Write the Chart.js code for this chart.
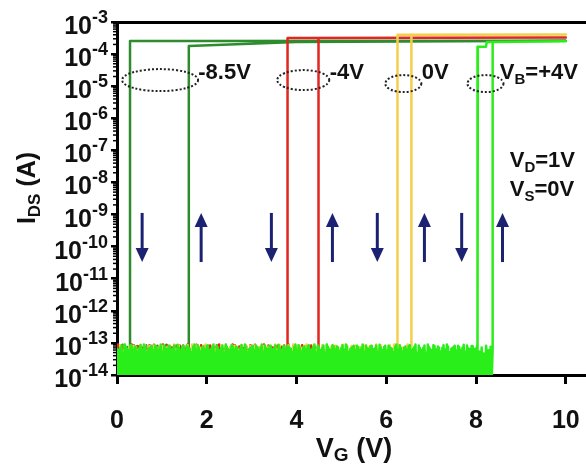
<!DOCTYPE html>
<html><head><meta charset="utf-8">
<script src="https://cdn.jsdelivr.net/npm/chart.js@4.4.0/dist/chart.umd.min.js"></script>
<style>html,body{margin:0;padding:0;background:#fff}</style>
</head><body>
<canvas id="c" width="586" height="464"></canvas>
<script>
// ---------- data ----------
const xTicks = [0, 2, 4, 6, 8, 10];
const yDecades = [-14, -13, -12, -11, -10, -9, -8, -7, -6, -5, -4, -3];
const deviceLabels = ['-8.5V', '-4V', '0V', '+4V'];

// on-state branches [V_G, I_DS]
const dg85Fwd = [[1.60, 1.8e-4], [2.50, 2.0e-4], [4.00, 2.4e-4], [10.0, 2.6e-4]];
const dg85Rev = [[10.0, 2.6e-4], [1.60, 2.55e-4], [0.29, 2.55e-4]];
const red4Fwd = [[4.49, 3.2e-4], [10.0, 3.3e-4]];
const red4Rev = [[10.0, 3.3e-4], [3.80, 3.2e-4]];
const yel0Fwd = [[6.56, 4.0e-4], [10.0, 4.1e-4]];
const yel0Rev = [[10.0, 4.1e-4], [6.25, 4.0e-4]];
const grn4Fwd = [[8.37, 2.4e-4], [10.0, 2.5e-4]];
const grn4Rev = [[10.0, 2.5e-4], [8.24, 2.4e-4], [8.22, 1.7e-4], [8.04, 1.7e-4]];

// off-state noise readings, log10(I_DS)
const offNoise = [
-13.12,-14.25,-13.30,-14.05,-13.08,-14.30,-13.22,-13.98,-13.15,-14.18,
-13.35,-14.10,-13.05,-14.28,-13.18,-14.02,-13.26,-14.22,-13.10,-13.95,
-13.20,-14.30,-13.14,-14.08,-13.32,-14.15,-13.07,-14.25,-13.24,-14.00,
-13.11,-14.20,-13.28,-14.12,-13.16,-14.30,-13.09,-14.04,-13.34,-14.18,
-13.13,-14.26,-13.21,-13.97,-13.06,-14.22,-13.30,-14.10,-13.17,-14.28,
-13.25,-14.06,-13.10,-14.16,-13.19,-14.30,-13.08,-14.02,-13.27,-14.24,
-13.14,-14.12,-13.33,-14.20,-13.09,-13.99,-13.23,-14.27,-13.12,-14.08,
-13.18,-14.22,-13.29,-14.14,-13.05,-14.30,-13.20,-14.03,-13.15,-14.19,
-13.26,-14.26,-13.11,-14.09,-13.31,-14.17,-13.07,-14.29,-13.22,-14.01
];
const sweepStep = 0.025;

// annotation anchors in data units [V_G, log10 I]
const arrowDownV = [0.56, 3.44, 5.80, 7.68];
const arrowUpV = [1.875, 4.80, 6.85, 8.59];
const arrowSpan = [-8.95, -10.48];
const ellipseV = [0.96, 4.15, 6.38, 8.21];
const ellipseE = [-4.81, -4.81, -4.92, -4.92];
const labelV = [1.81, 4.74, 6.79, 8.53];
const labelE = -4.78;

// ---------- styles ----------
const FONT = '"Liberation Sans", Arial, Helvetica, sans-serif';
const colors = ['#2e8b2e', '#e3261f', '#f4cf4c', '#2aee1a'];
const noiseOffsets = [[0, 37], [11, 53], [23, 71], [5, 46]];
const arrowColor = '#1b2272';

function offForward(vEnd, off) {
  const pts = [];
  for (let i = 0; i * sweepStep < vEnd - 1e-9; i++) {
    pts.push({x: +(i * sweepStep).toFixed(3), y: Math.pow(10, offNoise[(i + off) % offNoise.length])});
  }
  pts.push({x: vEnd, y: Math.pow(10, offNoise[(pts.length + off) % offNoise.length])});
  return pts;
}
function offReverse(vStart, off) {
  const pts = [{x: vStart, y: Math.pow(10, offNoise[off % offNoise.length])}];
  let k = 1;
  for (let i = Math.floor(vStart / sweepStep - 1e-9); i >= 0; i--, k++) {
    pts.push({x: +(i * sweepStep).toFixed(3), y: Math.pow(10, offNoise[(k + off) % offNoise.length])});
  }
  return pts;
}
function loop(fwd, rev, offs) {
  const toXY = a => a.map(p => ({x: p[0], y: p[1]}));
  return [
    ...offForward(fwd[0][0], offs[0]),
    ...toXY(fwd),
    ...toXY(rev),
    ...offReverse(rev[rev.length - 1][0], offs[1])
  ];
}
const branches = [[dg85Fwd, dg85Rev], [red4Fwd, red4Rev], [yel0Fwd, yel0Rev], [grn4Fwd, grn4Rev]];
const drawOrder = [3, 2, 1, 0];
const datasets = branches.map((b, i) => ({
  label: deviceLabels[i],
  data: loop(b[0], b[1], noiseOffsets[i]),
  showLine: true,
  borderColor: colors[i],
  backgroundColor: colors[i],
  borderWidth: 2.5,
  pointRadius: 0,
  tension: 0,
  borderJoinStyle: 'round',
  order: drawOrder[i]
}));

function rich(ctx, parts, x, y, align) {
  let w = 0;
  parts.forEach(p => { ctx.font = 'bold ' + p[1] + 'px ' + FONT; w += ctx.measureText(p[0]).width; });
  let cx = align === 'right' ? x - w : (align === 'center' ? x - w / 2 : x);
  ctx.textAlign = 'left';
  ctx.textBaseline = 'alphabetic';
  parts.forEach(p => {
    ctx.font = 'bold ' + p[1] + 'px ' + FONT;
    ctx.fillText(p[0], cx, y + (p[2] || 0));
    cx += ctx.measureText(p[0]).width;
  });
}

const annot = {
  id: 'annot',
  afterDraw(chart) {
    const {ctx, scales: {x, y}, chartArea: ca} = chart;
    const py = e => y.getPixelForValue(Math.pow(10, e));
    ctx.save();
    ctx.fillStyle = '#111';
    // y tick labels 10^n
    yDecades.forEach(e => {
      const p = py(e);
      ctx.font = 'bold 18px ' + FONT;
      const ew = ctx.measureText(String(e)).width;
      rich(ctx, [['10', 25]], 108 - ew, p + 12, 'right');
      rich(ctx, [[String(e), 18]], 108, p + 1, 'right');
    });
    // minor ticks
    ctx.strokeStyle = '#000';
    ctx.lineWidth = 1.5;
    for (let e = -14; e < -3; e++) {
      for (let m = 2; m <= 9; m++) {
        const p = y.getPixelForValue(m * Math.pow(10, e));
        ctx.beginPath(); ctx.moveTo(ca.left - 4, p); ctx.lineTo(ca.left, p); ctx.stroke();
      }
    }
    // axis titles
    rich(ctx, [['V', 27], ['G', 19, 4], [' (V)', 27]], 354, 457, 'center');
    ctx.save();
    ctx.translate(26, 188);
    ctx.rotate(-Math.PI / 2);
    rich(ctx, [['I', 25], ['DS', 17, 5], [' (A)', 25]], 0, 9, 'center');
    ctx.restore();
    // ellipses
    const radii = [[38, 11], [26, 10], [18, 8.5], [18, 8.5]];
    ctx.strokeStyle = '#222';
    ctx.lineWidth = 2;
    ctx.setLineDash([2, 2]);
    ellipseV.forEach((v, i) => {
      ctx.beginPath();
      ctx.ellipse(x.getPixelForValue(v), py(ellipseE[i]), radii[i][0], radii[i][1], 0, 0, Math.PI * 2);
      ctx.stroke();
    });
    ctx.setLineDash([]);
    // sweep labels
    const lb = py(labelE);
    rich(ctx, [['-8.5V', 22]], x.getPixelForValue(labelV[0]), lb, 'left');
    rich(ctx, [['-4V', 22]], x.getPixelForValue(labelV[1]), lb, 'left');
    rich(ctx, [['0V', 22]], x.getPixelForValue(labelV[2]), lb, 'left');
    rich(ctx, [['V', 22], ['B', 15, 5], ['=+4V', 22]], x.getPixelForValue(labelV[3]), lb, 'left');
    // bias conditions
    rich(ctx, [['V', 22], ['D', 15, 5], ['=1V', 22]], x.getPixelForValue(8.75), py(-7.52), 'left');
    rich(ctx, [['V', 22], ['S', 15, 5], ['=0V', 22]], x.getPixelForValue(8.75), py(-8.42), 'left');
    // arrows
    ctx.strokeStyle = arrowColor; ctx.fillStyle = arrowColor; ctx.lineWidth = 3;
    const yt = py(arrowSpan[0]), yb = py(arrowSpan[1]);
    const arrow = (px, up) => {
      const tip = up ? yt : yb, tail = up ? yb : yt, d = up ? 1 : -1;
      ctx.beginPath(); ctx.moveTo(px, tail); ctx.lineTo(px, tip + d * 10); ctx.stroke();
      ctx.beginPath(); ctx.moveTo(px, tip); ctx.lineTo(px - 6.5, tip + d * 14); ctx.lineTo(px + 6.5, tip + d * 14); ctx.closePath(); ctx.fill();
    };
    arrowDownV.forEach(v => arrow(x.getPixelForValue(v), false));
    arrowUpV.forEach(v => arrow(x.getPixelForValue(v), true));
    ctx.restore();
  }
};

new Chart(document.getElementById('c'), {
  type: 'scatter',
  data: {datasets},
  options: {
    responsive: false,
    animation: false,
    devicePixelRatio: 1,
    layout: {padding: {left: 0, right: 0, top: 22, bottom: 0}},
    plugins: {legend: {display: false}, tooltip: {enabled: false}},
    scales: {
      x: {
        type: 'linear', position: 'bottom', min: 0, max: 10.45,
        afterBuildTicks: s => { s.ticks = xTicks.map(v => ({value: v})); },
        afterFit: s => { s.height = 89; s.paddingRight = 0; s.paddingLeft = 0; },
        grid: {drawOnChartArea: false, drawTicks: true, tickLength: 9, lineWidth: 3, color: '#000'},
        border: {display: true, width: 3, color: '#000'},
        ticks: {color: '#111', autoSkip: false, maxRotation: 0, padding: 22,
                font: {family: FONT, size: 25, weight: 'bold'}}
      },
      x2: {
        type: 'linear', position: 'top', min: 0, max: 10.45,
        afterFit: s => { s.height = 0; s.paddingRight = 0; s.paddingLeft = 0; },
        grid: {drawOnChartArea: false, drawTicks: false},
        border: {display: true, width: 3, color: '#000'},
        ticks: {display: false}
      },
      y: {
        type: 'logarithmic', position: 'left', min: 1e-14, max: 1e-3,
        afterBuildTicks: s => { s.ticks = yDecades.map(e => ({value: Math.pow(10, e), major: true})); },
        afterFit: s => { s.width = 117; },
        grid: {drawOnChartArea: false, drawTicks: true, tickLength: 6, lineWidth: 2.5, color: '#000'},
        border: {display: true, width: 3, color: '#000'},
        ticks: {display: false}
      }
    }
  },
  plugins: [annot]
});
</script>
</body></html>
